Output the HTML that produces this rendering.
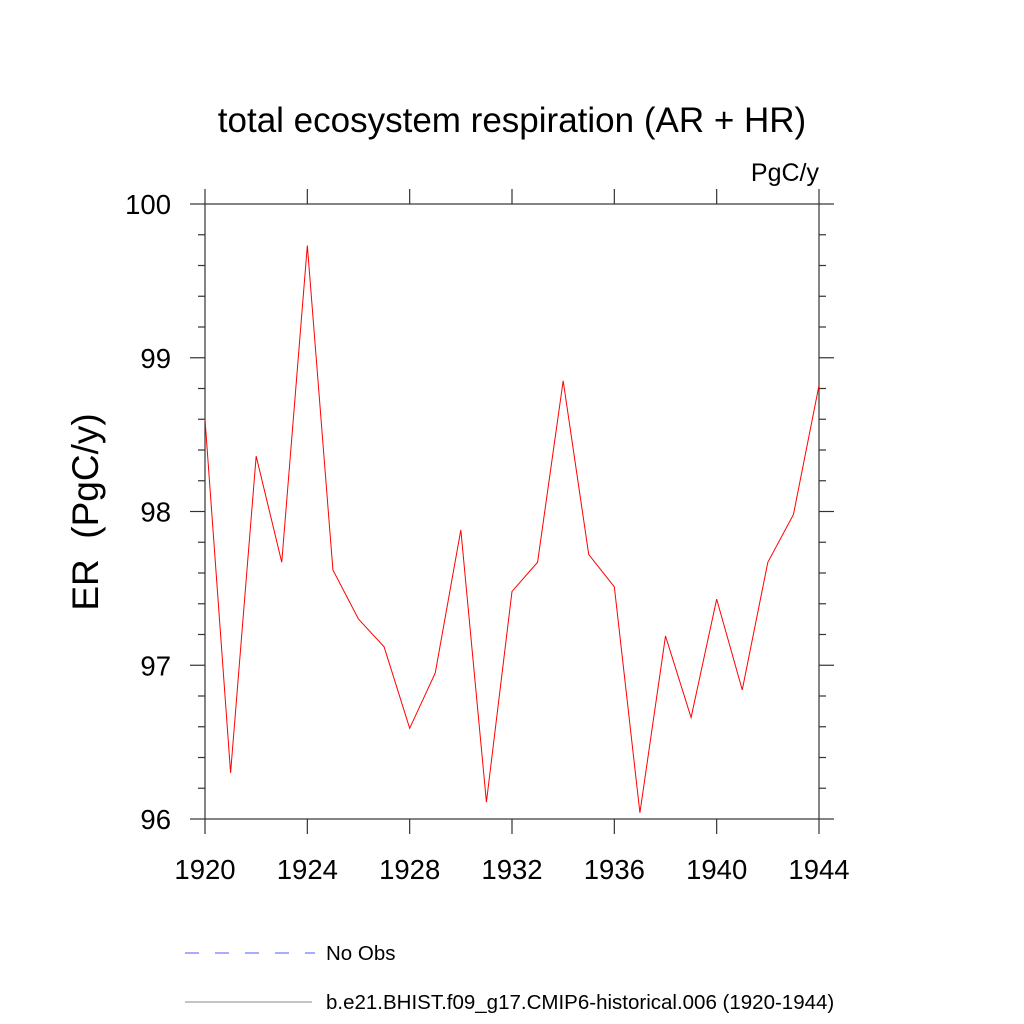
<!DOCTYPE html>
<html><head><meta charset="utf-8"><style>body{margin:0;background:#fff}svg{display:block}text{font-family:"Liberation Sans",sans-serif}</style></head>
<body>
<svg id="chart" width="1024" height="1024">
<text x="512" y="132" font-size="35" text-anchor="middle">total ecosystem respiration (AR + HR)</text>
<text x="819" y="181" font-size="25" text-anchor="end">PgC/y</text>
<text transform="translate(98,512) rotate(-90)" font-size="37" text-anchor="middle" style="white-space:pre">ER  (PgC/y)</text>
<g id="axes"></g>
<polyline id="series" fill="none" stroke="#ff0000" stroke-width="1"/>
<g>
<line x1="185" y1="953" x2="315" y2="953" stroke="#5555ff" stroke-width="1" stroke-dasharray="14,16"/>
<text x="326" y="960" font-size="20.5">No Obs</text>
<line x1="185" y1="1002" x2="312" y2="1002" stroke="#888" stroke-width="1"/>
<text x="326" y="1009" font-size="20.5">b.e21.BHIST.f09_g17.CMIP6-historical.006 (1920-1944)</text>
</g>
</svg>
<script>
const years=[1920,1921,1922,1923,1924,1925,1926,1927,1928,1929,1930,1931,1932,1933,1934,1935,1936,1937,1938,1939,1940,1941,1942,1943,1944];
const erValues=[98.6,96.3,98.36,97.67,99.73,97.62,97.3,97.12,96.59,96.95,97.88,96.11,97.48,97.67,98.85,97.72,97.51,96.04,97.19,96.66,97.43,96.84,97.67,97.98,98.82];
const xTicks=[1920,1924,1928,1932,1936,1940,1944];
const yTicks=[96,97,98,99,100];
const L=205,R=819,T=204,B=819;
const xs=v=>L+(v-1920)/(1944-1920)*(R-L);
const ys=v=>B-(v-96)/(100-96)*(B-T);
const ns="http://www.w3.org/2000/svg";
const ax=document.getElementById('axes');
function ln(x1,y1,x2,y2,name){const l=document.createElementNS(ns,'line');l.setAttribute('x1',x1);l.setAttribute('y1',y1);l.setAttribute('x2',x2);l.setAttribute('y2',y2);l.setAttribute('stroke','#333');l.setAttribute('stroke-width','1.2');


ax.appendChild(l);}
function tx(x,y,s,anchor,name){const t=document.createElementNS(ns,'text');t.setAttribute('x',x);t.setAttribute('y',y);t.setAttribute('font-size','27.5');t.setAttribute('text-anchor',anchor);t.textContent=s;


ax.appendChild(t);}
const fr=document.createElementNS(ns,'rect');fr.setAttribute('x',L);fr.setAttribute('y',T);fr.setAttribute('width',R-L);fr.setAttribute('height',B-T);fr.setAttribute('fill','none');fr.setAttribute('stroke','#333');fr.setAttribute('stroke-width','1.2');


ax.appendChild(fr);
xTicks.forEach(v=>{const x=xs(v);ln(x,B,x,B+15,'x-tick');ln(x,T,x,T-15,'x-tick-top');tx(x,B+60,String(v),'middle','x-tick-label');});
yTicks.forEach(v=>{const y=ys(v);ln(L,y,L-15,y,'y-tick');ln(R,y,R+15,y,'y-tick-right');tx(L-34,y+10,String(v),'end','y-tick-label');});
for(let v=96.2;v<100;v+=0.2){if(Math.abs(v-Math.round(v))<0.01)continue;const y=ys(v);ln(L,y,L-7,y,'y-minor-tick');ln(R,y,R+7,y,'y-minor-tick-right');}
document.getElementById('series').setAttribute('points',years.map((y,i)=>xs(y)+','+ys(erValues[i])).join(' '));
</script>
</body></html>
